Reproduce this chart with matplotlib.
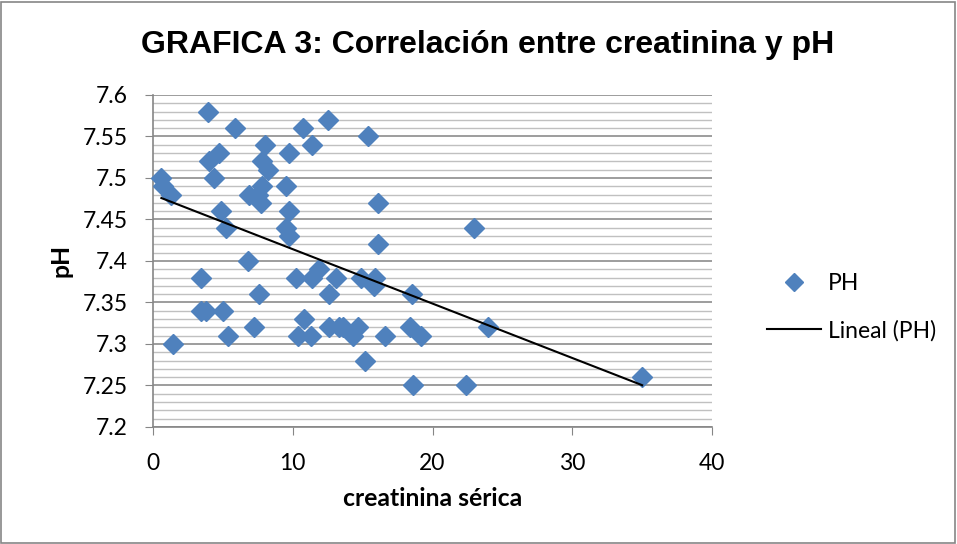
import matplotlib
matplotlib.use("Agg")
import matplotlib.pyplot as plt
import numpy as np
from matplotlib.lines import Line2D
from matplotlib.patches import Rectangle

creatinina = [3.9, 5.9, 10.7, 12.5, 15.4, 8.0, 11.4, 4.7, 4.0, 9.7, 7.8, 8.2,
              4.4, 0.6, 0.7, 1.3, 9.5, 7.8, 6.9, 7.5, 7.7, 4.9, 9.7, 5.2, 9.5,
              9.7, 16.1, 23.0, 16.1, 6.8, 3.4, 3.4, 3.8, 5.0, 1.4, 5.4, 7.6,
              7.2, 10.2, 11.4, 11.9, 13.1, 12.6, 10.8, 10.4, 11.3, 12.6, 13.3,
              14.9, 15.9, 15.8, 18.5, 13.6, 14.3, 14.7, 16.6, 18.4, 19.2, 15.2,
              18.6, 22.4, 24.0, 35.0]
ph = [7.58, 7.56, 7.56, 7.57, 7.55, 7.54, 7.54, 7.53, 7.52, 7.53, 7.52, 7.51,
      7.50, 7.50, 7.49, 7.48, 7.49, 7.49, 7.48, 7.48, 7.47, 7.46, 7.46, 7.44, 7.44,
      7.43, 7.47, 7.44, 7.42, 7.40, 7.38, 7.34, 7.34, 7.34, 7.30, 7.31, 7.36,
      7.32, 7.38, 7.38, 7.39, 7.38, 7.36, 7.33, 7.31, 7.31, 7.32, 7.32,
      7.38, 7.38, 7.37, 7.36, 7.32, 7.31, 7.32, 7.31, 7.32, 7.31, 7.28,
      7.25, 7.25, 7.32, 7.26]

title = "GRAFICA 3: Correlación entre creatinina y pH"
xlabel = "creatinina sérica"
ylabel = "pH"
series_name = "PH"
trend_name = "Lineal (PH)"
xticks = [0, 10, 20, 30, 40]
yticks = [7.2, 7.25, 7.3, 7.35, 7.4, 7.45, 7.5, 7.55, 7.6]
ytick_labels = ["7.2", "7.25", "7.3", "7.35", "7.4", "7.45", "7.5", "7.55", "7.6"]

plt.rcParams['font.family'] = ['Lato', 'DejaVu Sans']

W, H = 957, 544
fig = plt.figure(figsize=(W/100, H/100), dpi=100)
fig.patch.set_facecolor('white')
fig.add_artist(Rectangle((1/W, 1/H), 1 - 3/W, 1 - 3/H, transform=fig.transFigure,
                         fill=False, edgecolor='#868686', linewidth=1.2))

L, R, T, B = 153, 712, 95, 427
ax = fig.add_axes([L/W, 1 - B/H, (R-L)/W, (B-T)/H])

ax.set_xlim(0, 40)
ax.set_ylim(7.2, 7.6)
ax.set_xticks(xticks)
ax.set_yticks(yticks)
ax.set_yticklabels(ytick_labels)
ax.set_yticks(np.round(np.arange(7.2, 7.601, 0.01), 2), minor=True)
ax.grid(True, which='minor', axis='y', color='#c0c0c0', linewidth=1.0)
ax.grid(True, which='major', axis='y', color='#8c8c8c', linewidth=1.2)
ax.set_axisbelow(True)
ax.tick_params(axis='y', which='minor', length=0)
ax.tick_params(axis='y', which='major', length=6, color='#868686', labelsize=16.5, pad=12)
ax.tick_params(axis='x', which='major', length=6, color='#868686', labelsize=16.5, pad=13)
for s in ['top', 'right']:
    ax.spines[s].set_visible(False)
for s in ['left', 'bottom']:
    ax.spines[s].set_color('#868686')
    ax.spines[s].set_linewidth(1.2)

ax.plot(creatinina, ph, linestyle='none', marker='D', markersize=10.5,
        color='#4F81BD', markeredgecolor='#4F81BD', zorder=3, clip_on=False)

x = np.array(creatinina)
m, b = np.polyfit(x, np.array(ph), 1)
xs = np.array([x.min(), x.max()])
ax.plot(xs, m*xs + b, color='black', linewidth=1.5, zorder=4)

fig.text(488/W, 1 - 45/H, title, ha='center', va='center', fontsize=23,
         fontweight='bold', family=['Liberation Sans', 'DejaVu Sans'])
fig.text(433/W, 1 - 499/H, xlabel, ha='center', va='center', fontsize=17.8, fontweight='bold')
fig.text(61/W, 1 - 260/H, ylabel, ha='center', va='center', fontsize=17.8, fontweight='bold', rotation=90)

handles = [Line2D([0], [0], linestyle='none', marker='D', markersize=9.5, color='#4F81BD'),
           Line2D([0], [0], color='black', linewidth=1.5)]
leg = fig.legend(handles, [series_name, trend_name], loc='center left',
                 bbox_to_anchor=(767/W, 1 - 307/H), frameon=False, fontsize=16.5,
                 handlelength=2.35, labelspacing=1.15, handletextpad=0.3,
                 borderaxespad=0, borderpad=0)

fig.savefig("out.png", dpi=100)
